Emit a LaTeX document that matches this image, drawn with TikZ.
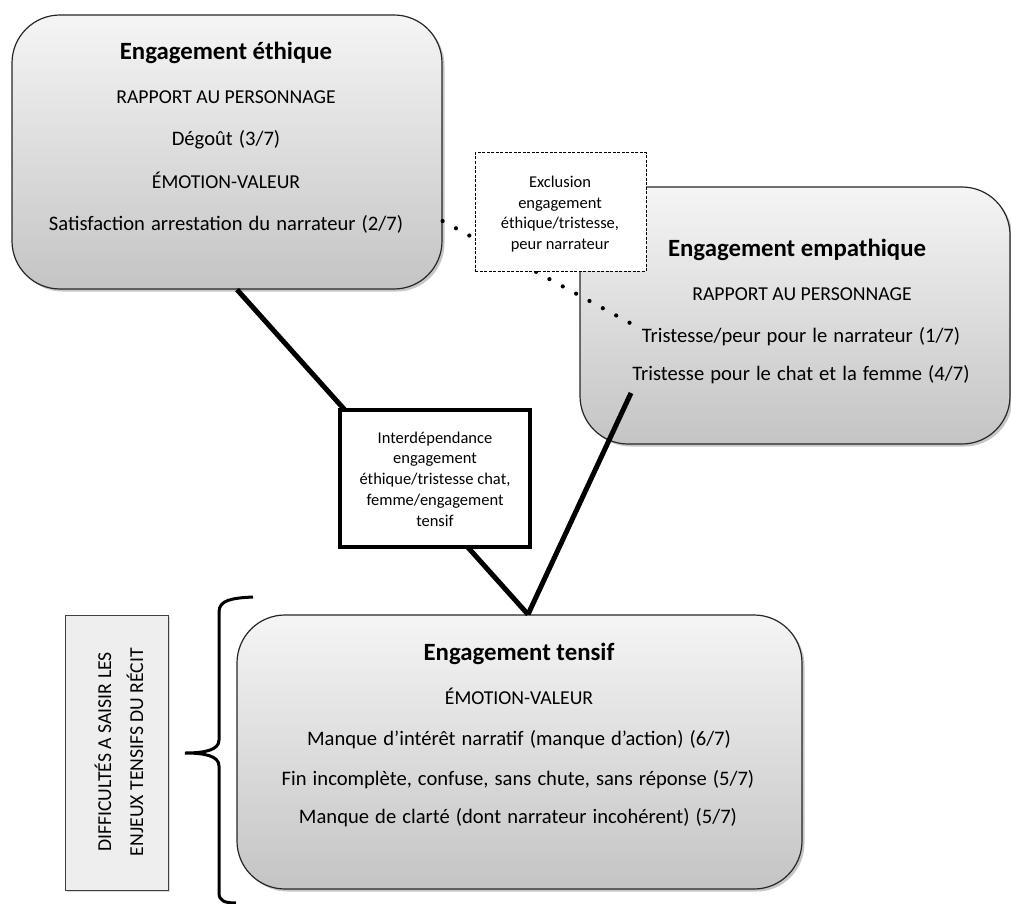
\documentclass[tikz,border=0pt]{standalone}
\usepackage{fontspec}
\setmainfont{Carlito}
\newfontfamily\bodyfam[WordSpace=1.3]{Carlito}
\usetikzlibrary{shadows}
\definecolor{boxtop}{RGB}{245,245,245}
\definecolor{boxbot}{RGB}{196,196,196}
\definecolor{sidefill}{RGB}{238,238,238}
\newcommand{\titlefont}{\fontsize{24.8}{30}\selectfont\bfseries}
\newcommand{\bodyfont}{\bodyfam\fontsize{20.6}{24}\selectfont}
\newcommand{\capsfont}{\fontsize{19.7}{24}\selectfont}
\newcommand{\notefont}{\fontsize{16.5}{20.7}\selectfont}

\begin{document}
\begin{tikzpicture}[x=1pt,y=-1pt,
  engbox/.style={draw=black!85, line width=1.2pt, rounded corners=48pt,
    top color=boxtop, bottom color=boxbot, inner sep=0pt,
    drop shadow={shadow xshift=2.5pt, shadow yshift=-2.5pt, opacity=0.45}},
  titletext/.style={font=\titlefont, anchor=base, inner sep=0pt},
  bodytext/.style={font=\bodyfont, anchor=base, inner sep=0pt},
  capstext/.style={font=\capsfont, anchor=base, inner sep=0pt},
  notetext/.style={font=\notefont, align=center, inner sep=0pt},
  link/.style={line width=5pt},
  dotlink/.style={line width=4.2pt, line cap=round, dash pattern=on 0pt off 15.2pt},
]
\useasboundingbox (0,0) rectangle (1011,904);

% the three engagement boxes
\node[engbox, minimum width=430pt, minimum height=274pt] (ethique) at (227,152) {};
\node[engbox, minimum width=430pt, minimum height=257pt] (empathique) at (795,315.5) {};
\node[engbox, minimum width=565pt, minimum height=274pt] (tensif) at (519.5,752) {};

% box contents
\node[titletext] (ethT) at (226,60) {Engagement éthique};
\node[capstext] (ethA) at (226,104) {RAPPORT AU PERSONNAGE};
\node[bodytext] (ethB) at (226,146) {Dégoût (3/7)};
\node[capstext] (ethC) at (226,189) {ÉMOTION-VALEUR};
\node[bodytext] (ethD) at (226,230) {Satisfaction arrestation du narrateur (2/7)};

\node[titletext] (empT) at (797,256) {Engagement empathique};
\node[capstext] (empA) at (802,300) {RAPPORT AU PERSONNAGE};
\node[bodytext] (empB) at (801,342) {Tristesse/peur pour le narrateur (1/7)};
\node[bodytext] (empC) at (801,380) {Tristesse pour le chat et la femme (4/7)};

\node[titletext] (tenT) at (519,660) {Engagement tensif};
\node[capstext] (tenA) at (519,704) {ÉMOTION-VALEUR};
\node[bodytext] (tenB) at (519,745) {Manque d’intérêt narratif (manque d’action) (6/7)};
\node[bodytext] (tenC) at (518,785) {Fin incomplète, confuse, sans chute, sans réponse (5/7)};
\node[bodytext] (tenD) at (518,823) {Manque de clarté (dont narrateur incohérent) (5/7)};

% side label with its brace
\node[draw=black!75, line width=0.8pt, fill=sidefill, minimum width=103pt,
  minimum height=275pt, inner sep=0pt,
  drop shadow={shadow xshift=2pt, shadow yshift=-2pt, opacity=0.3}] (side) at (116.5,752.5) {};
\node[font={\fontsize{19.7}{32}\selectfont}, rotate=90, align=center, inner sep=0pt]
  (sideT) at (119,752) {DIFFICULTÉS A SAISIR LES\\ENJEUX TENSIFS DU RÉCIT};
\draw[line width=3pt] (253,597) .. controls (232,598) and (219,600) .. (219,612)
  -- (219,740) .. controls (219,750) and (205,753) .. (185,753)
  .. controls (205,753) and (219,756) .. (219,766)
  -- (219,893) .. controls (219,901) and (225,903) .. (236,903);

% exclusion link (dotted), running behind its label
\coordinate (empDot) at (630,323);
\draw[dotlink] ([yshift=-69pt]ethique.east) -- (empDot);
\node[draw, fill=white, line width=1pt, dash pattern=on 3pt off 1.5pt,
  minimum width=171pt, minimum height=118pt] (exclusion) at (560.5,212) {};
\node[notetext] (exclusionT) at (560,214)
  {Exclusion\\engagement\\éthique/tristesse,\\peur narrateur};

% interdependence links
\coordinate (empEnd) at (631,393);
\draw[link] ([xshift=10pt]ethique.south) -- ([xshift=8.5pt]tensif.north);
\draw[link] ([xshift=8.5pt]tensif.north) -- (empEnd);
\node[draw, fill=white, line width=4pt, minimum width=190pt, minimum height=137pt]
  (interdep) at (435,478.5) {};
\node[notetext] (interdepT) at (435,479)
  {Interdépendance\\engagement\\éthique/tristesse chat,\\femme/engagement\\tensif};
\end{tikzpicture}
\end{document}
